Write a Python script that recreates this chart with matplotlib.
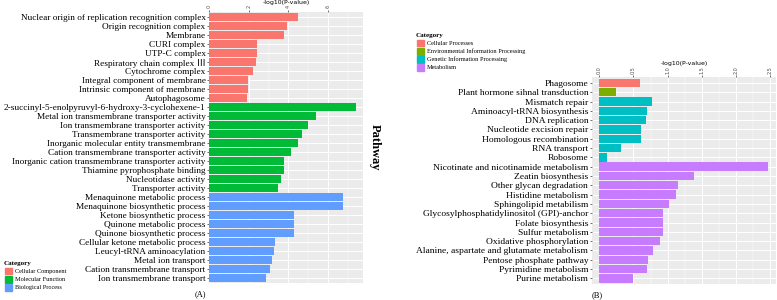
import matplotlib

matplotlib.use("Agg")
import matplotlib.pyplot as plt
from matplotlib.patches import Rectangle
import numpy as np

SERIF = ["Liberation Serif", "Noto Sans CJK SC", "DejaVu Sans"]

# ---- panel A: GO terms ----
go_terms = [
    "Nuclear origin of replication recognition complex",
    "Origin recognition complex",
    "Membrane",
    "CURI complex",
    "UTP-C complex",
    "Respiratory chain complex \u2162",
    "Cytochrome complex",
    "Integral component of membrane",
    "Intrinsic component of membrane",
    "Autophagosome",
    "2-succinyl-5-enolpyruvyl-6-hydroxy-3-cyclohexene-1",
    "Metal ion transmembrane transporter activity",
    "Ion transmembrane transporter activity",
    "Transmembrane transporter activity",
    "Inorganic molecular entity transmembrane",
    "Cation transmembrane transporter activity",
    "Inorganic cation transmembrane transporter activity",
    "Thiamine pyrophosphate binding",
    "Nucleotidase activity",
    "Transporter activity",
    "Menaquinone metabolic process",
    "Menaquinone biosynthetic process",
    "Ketone biosynthetic process",
    "Quinone metabolic process",
    "Quinone biosynthetic process",
    "Cellular ketone metabolic process",
    "Leucyl-tRNA aminoacylation",
    "Metal ion transport",
    "Cation transmembrane transport",
    "Ion transmembrane transport",
]
go_values = [4.46, 3.91, 3.77, 2.43, 2.43, 2.36, 2.22, 1.97, 1.95, 1.90,
             7.39, 5.39, 5.00, 4.68, 4.46, 4.13, 3.76, 3.76, 3.64, 3.49,
             6.74, 6.74, 4.26, 4.26, 4.26, 3.30, 3.27, 3.17, 3.07, 2.88]
go_category = (["Cellular Component"] * 10 + ["Molecular Function"] * 10
               + ["Biological Process"] * 10)
go_levels = ["Cellular Component", "Molecular Function", "Biological Process"]
go_colors = {"Cellular Component": "#F8766D",
             "Molecular Function": "#00BA38",
             "Biological Process": "#619CFF"}
go_ticks = [0, 2, 4, 6]

# ---- panel B: KEGG pathways ----
kegg_terms = [
    "Phagosome",
    "Plant hormone sihnal transduction",
    "Mismatch repair",
    "Aminoacyl-tRNA biosynthesis",
    "DNA replication",
    "Nucleotide excision repair",
    "Homologous recombination",
    "RNA transport",
    "Robosome",
    "Nicotinate and nicotinamide metabolism",
    "Zeatin biosynthesis",
    "Other glycan degradation",
    "Histidine metabolism",
    "Sphingolipid metabilism",
    "Glycosylphosphatidylinositol (GPI)-anchor",
    "Folate biosynthesis",
    "Sulfur metabolism",
    "Oxidative phosphorylation",
    "Alanine, aspartate and glutamate metabolism",
    "Pentose phosphate pathway",
    "Pyrimidine metabolism",
    "Purine metabolism",
]
kegg_values = [0.595, 0.244, 0.766, 0.697, 0.678, 0.614, 0.610, 0.312, 0.117,
               2.47, 1.39, 1.15, 1.12, 1.02, 0.927, 0.927, 0.927, 0.887,
               0.785, 0.708, 0.693, 0.488]
kegg_category = (["Cellular Processes", "Environmental Information Processing"]
                 + ["Genetic Information Processing"] * 7 + ["Metabolism"] * 13)
kegg_levels = ["Cellular Processes", "Environmental Information Processing",
               "Genetic Information Processing", "Metabolism"]
kegg_colors = {"Cellular Processes": "#F8766D",
               "Environmental Information Processing": "#7CAE00",
               "Genetic Information Processing": "#00BFC4",
               "Metabolism": "#C77CFF"}
kegg_ticks = [0.0, 0.5, 1.0, 1.5, 2.0, 2.5]


def bar_panel(ax, terms, values, cats, colors, ticks, xlim, label_size):
    y = np.arange(len(terms))
    ax.set_facecolor("#EBEBEB")
    ax.barh(y, values, height=0.9, color=[colors[c] for c in cats], zorder=3)
    ax.set_xlim(*xlim)
    ax.set_ylim(len(terms) - 0.4, -0.6)
    # grid like ggplot
    step = ticks[1] - ticks[0]
    for t in ticks:
        ax.axvline(t, color="white", lw=0.7, zorder=1)
    minor = np.arange(ticks[0] + step / 2, xlim[1], step)
    for t in minor:
        ax.axvline(t, color="white", lw=0.35, zorder=1)
    for yy in y:
        ax.axhline(yy, color="white", lw=0.7, zorder=1)
    ax.set_yticks(y)
    ax.set_yticklabels(terms, fontsize=label_size, family=SERIF)
    ax.xaxis.tick_top()
    ax.xaxis.set_label_position("top")
    ax.set_xticks(ticks)
    ax.set_xticklabels([f"{t:g}" if isinstance(t, int) else f"{t:.1f}" for t in ticks],
                       rotation=90, fontsize=3.5, color="#4D4D4D")
    ax.set_xlabel("-log10(P-value)", fontsize=4.5, labelpad=1)
    ax.tick_params(axis="both", length=1.5, width=0.5, color="#333333", pad=1)
    for s in ax.spines.values():
        s.set_visible(False)


def legend(fig, x, y, title, levels, colors):
    fig.text(x, y, title, fontsize=5, fontweight="bold", family=SERIF,
             va="center", ha="left")
    for i, lev in enumerate(levels):
        yy = y - (i + 1) * 8.2 / 300
        fig.patches.append(Rectangle((x + 1 / 777, yy - 3.2 / 300), 7 / 777, 6.8 / 300,
                                     color=colors[lev], transform=fig.transFigure,
                                     figure=fig))
        fig.text(x + 11 / 777, yy, lev, fontsize=4.5, family=SERIF,
                 va="center", ha="left")


fig = plt.figure(figsize=(7.77, 3.0), dpi=100)

axA = fig.add_axes([209 / 777, 1 - 283.3 / 300, 154 / 777, (283.3 - 11.7) / 300])
bar_panel(axA, go_terms, go_values, go_category, go_colors, go_ticks,
          (0, 7.75), 6.7)
axA.text(1.04, 0.5, "Pathway", transform=axA.transAxes, rotation=-90,
         fontsize=9, fontweight="bold", family=SERIF, va="center", ha="left")

axB = fig.add_axes([591.7 / 777, 1 - 284 / 300, 184.3 / 777, (284 - 77.3) / 300])
bar_panel(axB, kegg_terms, kegg_values, kegg_category, kegg_colors, kegg_ticks,
          (-0.111, 2.583), 6.8)

legend(fig, 4 / 777, 1 - 263 / 300, "Category", go_levels, go_colors)
legend(fig, 416 / 777, 1 - 35 / 300, "Category", kegg_levels, kegg_colors)

fig.text(200 / 777, 1 - 294 / 300, "(A)", fontsize=6, family=SERIF,
         ha="center", va="center")
fig.text(597 / 777, 1 - 295 / 300, "(B)", fontsize=6, family=SERIF,
         ha="center", va="center")

fig.savefig("out.png", dpi=100)
